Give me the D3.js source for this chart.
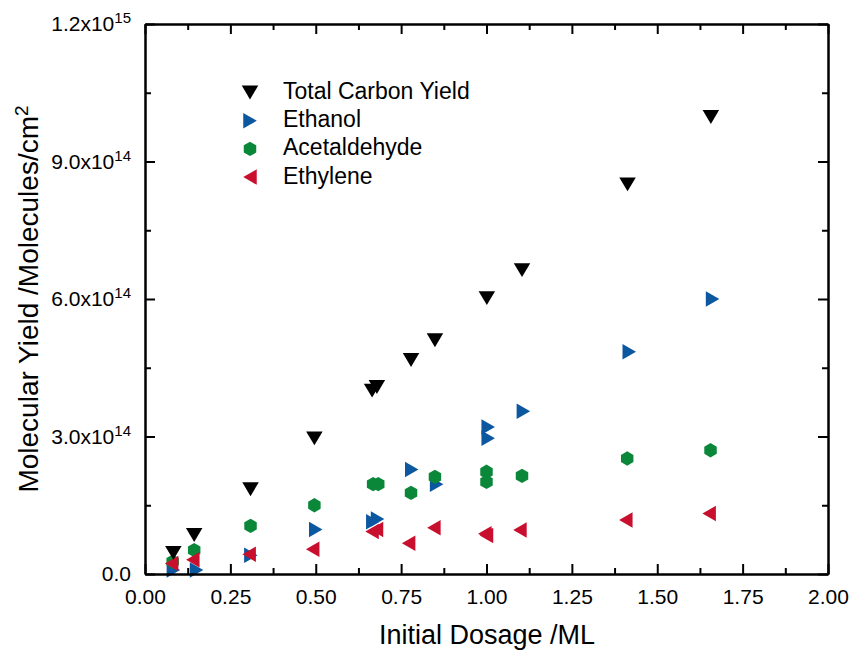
<!DOCTYPE html>
<html>
<head>
<meta charset="utf-8">
<script src="https://cdn.jsdelivr.net/npm/d3@7"></script>
<style>
  html, body { margin: 0; padding: 0; background: #fff; }
  svg { display: block; }
  text { font-family: "Liberation Sans", Arial, Helvetica, sans-serif; fill: #000; }
</style>
</head>
<body>
<svg id="chart" width="855" height="652"></svg>
<script>
// Initial dosage (ML) and molecular yields (molecules/cm^2) per product
const totalDose   = [0.083, 0.144, 0.309, 0.496, 0.665, 0.679, 0.779, 0.849, 1.001, 1.104, 1.413, 1.657];
const totalYield  = [0.46e14, 0.85e14, 1.85e14, 2.96e14, 4.00e14, 4.08e14, 4.67e14, 5.10e14, 6.02e14, 6.63e14, 8.50e14, 9.97e14];

const ethanolDose  = [0.083, 0.151, 0.310, 0.500, 0.667, 0.681, 0.781, 0.854, 1.005, 1.005, 1.108, 1.418, 1.662];
const ethanolYield = [0.09e14, 0.09e14, 0.41e14, 0.97e14, 1.14e14, 1.20e14, 2.28e14, 1.96e14, 3.21e14, 2.96e14, 3.55e14, 4.85e14, 6.00e14];

const acetaldehydeDose  = [0.081, 0.144, 0.309, 0.496, 0.668, 0.683, 0.779, 0.849, 1.000, 1.000, 1.104, 1.412, 1.656];
const acetaldehydeYield = [0.27e14, 0.52e14, 1.05e14, 1.50e14, 1.96e14, 1.96e14, 1.77e14, 2.12e14, 2.23e14, 2.01e14, 2.14e14, 2.52e14, 2.70e14];

const ethyleneDose  = [0.078, 0.140, 0.305, 0.491, 0.665, 0.678, 0.772, 0.846, 0.995, 1.000, 1.098, 1.408, 1.652];
const ethyleneYield = [0.23e14, 0.31e14, 0.43e14, 0.54e14, 0.93e14, 0.97e14, 0.67e14, 1.01e14, 0.88e14, 0.84e14, 0.96e14, 1.18e14, 1.32e14];

// Axis ticks and labels
const xMajorTicks = [0, 0.25, 0.5, 0.75, 1.0, 1.25, 1.5, 1.75, 2.0];
const xMinorTicks = [0.125, 0.375, 0.625, 0.875, 1.125, 1.375, 1.625, 1.875];
const xTickLabels = ["0.00", "0.25", "0.50", "0.75", "1.00", "1.25", "1.50", "1.75", "2.00"];
const yMajorTicks = [0, 3e14, 6e14, 9e14, 1.2e15];
const yMinorTicks = [1.5e14, 4.5e14, 7.5e14, 10.5e14];
const yTickMantissa = ["0.0", "3.0x10", "6.0x10", "9.0x10", "1.2x10"];
const yTickExponent = ["", "14", "14", "14", "15"];

const seriesNames = ["Total Carbon Yield", "Ethanol", "Acetaldehyde", "Ethylene"];

const svg = d3.select("#chart");
const W = 855, H = 652;
const margin = { left: 145, right: W - 828, top: 24, bottom: H - 574 };
const plotW = W - margin.left - margin.right;
const plotH = H - margin.top - margin.bottom;

svg.append("rect").attr("width", W).attr("height", H).attr("fill", "#fff");

const x = d3.scaleLinear().domain([0, 2.0]).range([margin.left, margin.left + plotW]);
const y = d3.scaleLinear().domain([0, 1.2e15]).range([margin.top + plotH, margin.top]);

// Marker shapes, centred on their bounding boxes
function triDown(s) { const h = s * 0.84; return `M${-s/2},${-h/2}L${s/2},${-h/2}L0,${h/2}Z`; }
function triRight(s) { const w = s * 0.87; return `M${-w/2},${-s/2}L${w/2},0L${-w/2},${s/2}Z`; }
function triLeft(s) { const w = s * 0.87; return `M${w/2},${-s/2}L${-w/2},0L${w/2},${s/2}Z`; }
function hexagon(r) {
  const pts = d3.range(6).map(i => {
    const a = Math.PI / 2 + i * Math.PI / 3;
    return [r * Math.cos(a), r * Math.sin(a)];
  });
  return "M" + pts.map(p => p.join(",")).join("L") + "Z";
}

const series = [
  { name: seriesNames[1], dose: ethanolDose, yield: ethanolYield, color: "#0b57a0", path: triRight(15.5) },
  { name: seriesNames[2], dose: acetaldehydeDose, yield: acetaldehydeYield, color: "#0b873a", path: hexagon(7.2) },
  { name: seriesNames[3], dose: ethyleneDose, yield: ethyleneYield, color: "#c8102e", path: triLeft(15.5) },
  { name: seriesNames[0], dose: totalDose, yield: totalYield, color: "#000000", path: triDown(16.5) }
];

const marks = svg.append("g");
series.forEach(s => {
  marks.append("g").selectAll("path")
    .data(s.dose.map((d, i) => [d, s.yield[i]]))
    .join("path")
    .attr("d", s.path)
    .attr("fill", s.color)
    .attr("transform", d => `translate(${x(d[0])},${y(d[1])})`);
});

// Axes: ticks point inward on all four sides
const axisG = svg.append("g");
const styleAxis = g => {
  g.selectAll(".domain").attr("stroke", "#000").attr("stroke-width", 2);
  g.selectAll(".tick line").attr("stroke", "#000").attr("stroke-width", 2);
};

axisG.append("g").attr("transform", `translate(0,${y(0)})`)
  .call(d3.axisBottom(x).tickValues(xMajorTicks).tickSizeInner(-10).tickSizeOuter(0).tickPadding(15)
    .tickFormat((d, i) => xTickLabels[i]))
  .call(styleAxis)
  .call(g => g.selectAll("text").attr("font-size", 21).attr("font-family", "Liberation Sans, Arial, sans-serif"));
axisG.append("g").attr("transform", `translate(0,${y(0)})`)
  .call(d3.axisBottom(x).tickValues(xMinorTicks).tickSizeInner(-6).tickSizeOuter(0).tickFormat(""))
  .call(styleAxis);

axisG.append("g").attr("transform", `translate(0,${y(1.2e15)})`)
  .call(d3.axisTop(x).tickValues(xMajorTicks).tickSizeInner(-10).tickSizeOuter(0).tickFormat(""))
  .call(styleAxis);
axisG.append("g").attr("transform", `translate(0,${y(1.2e15)})`)
  .call(d3.axisTop(x).tickValues(xMinorTicks).tickSizeInner(-6).tickSizeOuter(0).tickFormat(""))
  .call(styleAxis);

const left = axisG.append("g").attr("transform", `translate(${x(0)},0)`)
  .call(d3.axisLeft(y).tickValues(yMajorTicks).tickSizeInner(-10).tickSizeOuter(0).tickPadding(14)
    .tickFormat(""))
  .call(styleAxis);
left.selectAll(".tick text").each(function(d, i) {
  const t = d3.select(this).attr("font-size", 21).attr("font-family", "Liberation Sans, Arial, sans-serif");
  t.append("tspan").text(yTickMantissa[i]);
  if (yTickExponent[i]) t.append("tspan").attr("dy", -8).attr("font-size", 15).text(yTickExponent[i]);
});
axisG.append("g").attr("transform", `translate(${x(0)},0)`)
  .call(d3.axisLeft(y).tickValues(yMinorTicks).tickSizeInner(-6).tickSizeOuter(0).tickFormat(""))
  .call(styleAxis);

axisG.append("g").attr("transform", `translate(${x(2.0)},0)`)
  .call(d3.axisRight(y).tickValues(yMajorTicks).tickSizeInner(-10).tickSizeOuter(0).tickFormat(""))
  .call(styleAxis);
axisG.append("g").attr("transform", `translate(${x(2.0)},0)`)
  .call(d3.axisRight(y).tickValues(yMinorTicks).tickSizeInner(-6).tickSizeOuter(0).tickFormat(""))
  .call(styleAxis);

// Axis titles
svg.append("text")
  .attr("x", (x(0) + x(2.0)) / 2 + 0.5).attr("y", 644)
  .attr("text-anchor", "middle").attr("font-size", 27)
  .text("Initial Dosage /ML");

const yTitle = svg.append("text")
  .attr("transform", "translate(37.5,299) rotate(-90)")
  .attr("text-anchor", "middle").attr("font-size", 28);
yTitle.append("tspan").text("Molecular Yield /Molecules/cm");
yTitle.append("tspan").attr("dy", -10).attr("font-size", 19).text("2");

// Legend
const legendOrder = [series[3], series[0], series[1], series[2]];
const legend = svg.append("g");
legendOrder.forEach((s, i) => {
  const cy = 92.5 + i * 28.2;
  legend.append("path").attr("d", s.path).attr("fill", s.color)
    .attr("transform", `translate(250,${cy})`);
  legend.append("text").attr("x", 283).attr("y", cy + 6.5)
    .attr("font-size", 23).text(s.name);
});
</script>
</body>
</html>
